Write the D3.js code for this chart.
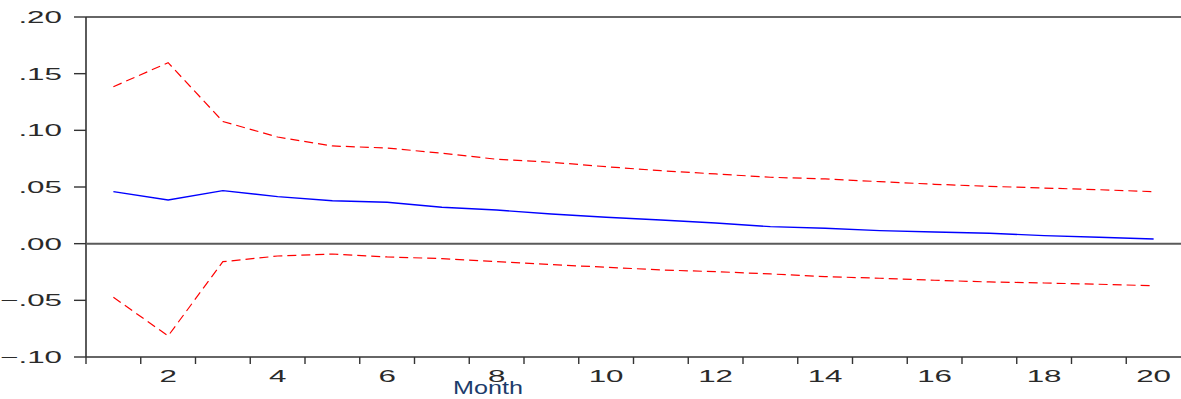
<!DOCTYPE html>
<html>
<head>
<meta charset="utf-8">
<script src="https://cdn.jsdelivr.net/npm/d3@7"></script>
<style>
  html, body { margin: 0; padding: 0; background: #fff; }
  svg { display: block; }
  text { font-family: "Liberation Sans", Arial, sans-serif; }
</style>
</head>
<body>
<svg id="chart" width="1181" height="399"></svg>
<script>
// Impulse response over 20 months with +/- 2 S.E. bands
const months = d3.range(1, 21);
const response = [0.0459, 0.0386, 0.0468, 0.0415, 0.0379, 0.0365, 0.0321, 0.0297, 0.0262, 0.0233,
                  0.0209, 0.0183, 0.0150, 0.0136, 0.0115, 0.0103, 0.0092, 0.0071, 0.0056, 0.0041];
const upperBand = [0.1385, 0.1597, 0.1078, 0.0941, 0.0862, 0.0844, 0.0798, 0.0745, 0.0718, 0.0679,
                   0.0644, 0.0615, 0.0586, 0.0571, 0.0547, 0.0524, 0.0506, 0.0491, 0.0476, 0.0459];
const lowerBand = [-0.0473, -0.0814, -0.0159, -0.0109, -0.0091, -0.0117, -0.0132, -0.0159, -0.0185, -0.0208,
                   -0.0232, -0.0247, -0.0267, -0.0291, -0.0305, -0.0323, -0.0338, -0.0347, -0.0358, -0.0371];
const yTickValues = [-0.10, -0.05, 0.00, 0.05, 0.10, 0.15, 0.20];
const xLabelMonths = [2, 4, 6, 8, 10, 12, 14, 16, 18, 20];
const xTitle = "Month";

const svg = d3.select("#chart");
const plotLeft = 86, plotRight = 1181, plotTop = 17, plotBottom = 357;
const stretch = 1.9;   // wide tick-label lettering

const x = d3.scaleLinear().domain([0.5, 20.5]).range([plotLeft, plotRight]);
const y = d3.scaleLinear().domain([-0.10, 0.20]).range([plotBottom, plotTop]);

const axisColor = "#333";

// Frame: top, left and bottom edges
svg.append("line").attr("x1", plotLeft).attr("x2", plotRight).attr("y1", plotTop).attr("y2", plotTop)
  .attr("stroke", axisColor).attr("stroke-width", 1.4);
svg.append("line").attr("x1", plotLeft).attr("x2", plotLeft).attr("y1", plotTop).attr("y2", plotBottom)
  .attr("stroke", axisColor).attr("stroke-width", 1.6);
svg.append("line").attr("x1", plotLeft).attr("x2", plotRight).attr("y1", plotBottom).attr("y2", plotBottom)
  .attr("stroke", axisColor).attr("stroke-width", 1.4);

// Zero reference line
svg.append("line").attr("x1", plotLeft).attr("x2", plotRight).attr("y1", y(0)).attr("y2", y(0))
  .attr("stroke", "#5a5a5a").attr("stroke-width", 2);

// Y ticks and labels
const fmt = v => d3.format(".2f")(v).replace("0.", ".");
svg.append("g").selectAll("line").data(yTickValues).join("line")
  .attr("x1", plotLeft - 12).attr("x2", plotLeft)
  .attr("y1", d => y(d)).attr("y2", d => y(d))
  .attr("stroke", axisColor).attr("stroke-width", 1.4);
svg.append("g").selectAll("g").data(yTickValues).join("g")
  .attr("transform", d => `translate(62,${y(d) + 6}) scale(${stretch},1)`)
  .append("text")
  .attr("text-anchor", "end")
  .attr("font-size", 16.5)
  .attr("fill", "#2a2a2a")
  .text(fmt);

// X ticks at period boundaries, labels centred on even months
const boundaries = d3.range(0.5, 20.5, 1);
svg.append("g").selectAll("line").data(boundaries).join("line")
  .attr("x1", d => x(d)).attr("x2", d => x(d))
  .attr("y1", plotBottom).attr("y2", plotBottom + 7)
  .attr("stroke", axisColor).attr("stroke-width", 1.4);
svg.append("g").selectAll("g").data(xLabelMonths).join("g")
  .attr("transform", d => `translate(${x(d)},382) scale(${stretch},1)`)
  .append("text")
  .attr("text-anchor", "middle")
  .attr("font-size", 16.5)
  .attr("fill", "#2a2a2a")
  .text(d => d);

svg.append("g").attr("transform", "translate(488,394) scale(1.4,1)")
  .append("text")
  .attr("text-anchor", "middle")
  .attr("font-size", 18)
  .attr("fill", "#1c3c6c")
  .text(xTitle);

// Series
const line = d3.line().x((d, i) => x(months[i])).y(d => y(d));

svg.append("path").datum(upperBand)
  .attr("d", line).attr("fill", "none")
  .attr("stroke", "#ff0000").attr("stroke-width", 1.2)
  .attr("stroke-dasharray", "9,5");
svg.append("path").datum(lowerBand)
  .attr("d", line).attr("fill", "none")
  .attr("stroke", "#ff0000").attr("stroke-width", 1.2)
  .attr("stroke-dasharray", "9,5");
svg.append("path").datum(response)
  .attr("d", line).attr("fill", "none")
  .attr("stroke", "#0000ff").attr("stroke-width", 1.4);
</script>
</body>
</html>
